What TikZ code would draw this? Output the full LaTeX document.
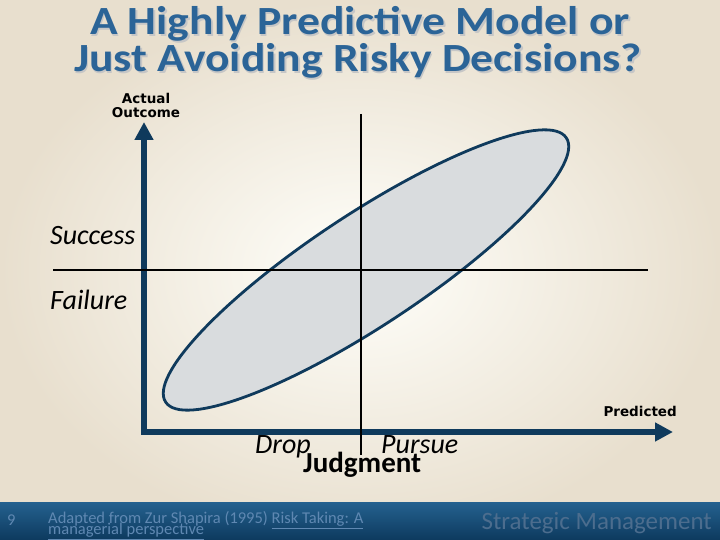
\documentclass[tikz,border=0pt]{standalone}
\usepackage{fontspec}
\setmainfont{Carlito}
\newfontfamily\labelfont{DejaVu Sans}
\usepackage{xcolor}
\usetikzlibrary{arrows.meta}
\definecolor{titleblue}{HTML}{2B6497}
\definecolor{axisnavy}{HTML}{0F3A5C}
\definecolor{footblue}{HTML}{5F88B2}
\definecolor{footdark}{HTML}{0D3A5E}
\definecolor{foottop}{HTML}{24608E}

\begin{document}
\begin{tikzpicture}[x=1pt,y=1pt,>={Triangle[length=18pt,width=18pt]},
  axis/.style={->,line width=5.5pt,axisnavy},
  divider/.style={line width=2.6pt,black},
  titleline/.style={inner sep=0pt,anchor=base,xscale=1.14,font=\fontsize{40}{40}\selectfont\bfseries},
  quadlabel/.style={anchor=base west,inner sep=0pt,font=\fontsize{28}{30}\selectfont\itshape},
  boldlabel/.style={inner sep=0pt,font=\labelfont\bfseries\fontsize{13.5}{14}\selectfont},
  footnote/.style={anchor=base west,inner sep=0pt,text=footblue,font=\fontsize{16.5}{12}\selectfont}]
  % background and footer bar
  \shade[inner color=white!70!yellow!6, outer color={rgb,255:red,232;green,223;blue,206}]
    (0,0) rectangle (720,540);
  \shade[top color=foottop,bottom color=footdark] (0,0) rectangle (720,37);
  \useasboundingbox (0,0) rectangle (720,540);
  % title, with a soft shadow
  \foreach \dx/\dy/\col in {1.5/-1.5/gray!45,0/0/titleblue} {
    \node[titleline,text=\col] (titleA) at (360+\dx,505+\dy) {A Highly Predictive Model or};
    \node[titleline,text=\col] (titleB) at (358+\dx,468+\dy) {Just Avoiding Risky Decisions?};
  }
  % axes
  \coordinate (origin) at (144,108);
  \coordinate (ytip) at (144,418);
  \coordinate (xtip) at (673,108);
  \draw[axis] (origin) -- (ytip);
  \draw[axis] (origin) -- (xtip);
  \fill[axisnavy] (141.25,105.25) rectangle (146.75,110.75);
  % ellipse of judgments
  \draw[line width=2.8pt,axisnavy,fill={rgb,255:red,217;green,220;blue,222}]
    (366,270) ellipse[x radius=240,y radius=56,rotate=33.4];
  % quadrant dividers
  \coordinate (vtop) at (361,426);
  \coordinate (vbot) at (361,85);
  \coordinate (hleft) at (53,270);
  \coordinate (hright) at (648,270);
  \draw[divider] (vtop) -- (vbot);
  \draw[divider] (hleft) -- (hright);
  % labels
  \node[boldlabel,align=center] (actual) at (146,435) {Actual\\Outcome};
  \node[boldlabel,anchor=base east] (predicted) at (677,123) {Predicted};
  \node[quadlabel] (success) at (50,295) {Success};
  \node[quadlabel] (failure) at (50,230) {Failure};
  \node[quadlabel] (drop) at (255,86) {Drop};
  \node[quadlabel] (pursue) at (381,86) {Pursue};
  \node[anchor=base west,inner sep=0pt,font=\fontsize{29}{30}\selectfont\bfseries]
    (judgment) at (303,67) {Judgment};
  % footer
  \node[footnote] (pagenum) at (7,14) {9};
  \node[footnote] (sourceA) at (48,16) {Adapted from Zur Shapira (1995) \underline{Risk Taking: A}};
  \node[footnote] (sourceB) at (48,5) {\underline{managerial perspective}};
  \node[anchor=base east,inner sep=0pt,text=footblue!80!black,
    font=\fontsize{25}{25}\selectfont] (course) at (712,10) {Strategic Management};
\end{tikzpicture}
\end{document}
